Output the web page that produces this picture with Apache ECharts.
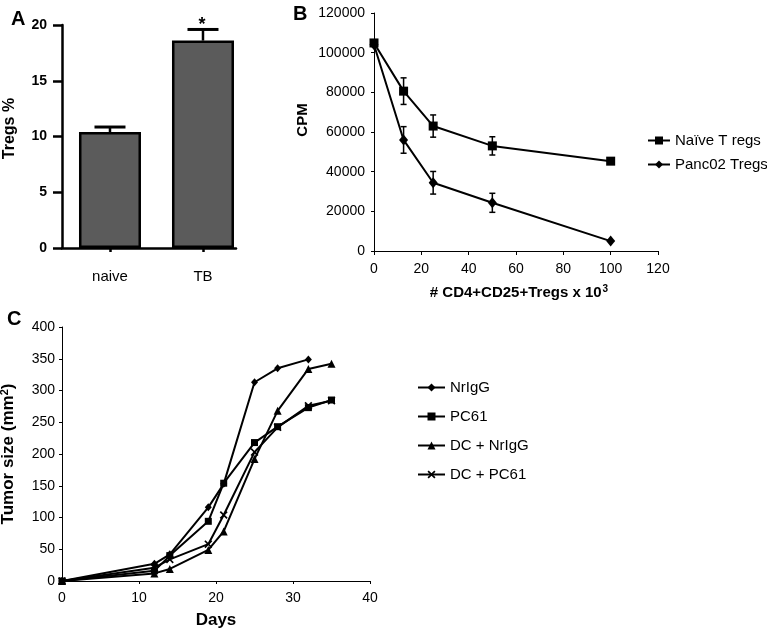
<!DOCTYPE html>
<html>
<head>
<meta charset="utf-8">
<script src="https://cdn.jsdelivr.net/npm/echarts@6/dist/echarts.min.js"></script>
<style>html,body{margin:0;padding:0;background:#fff}#c{width:767px;height:630px}</style>
</head>
<body>
<div id="c"></div>
<script>
// ---- Panel A data ----
const aCategories = ['naive', 'TB'];
const aValues = [10.4, 18.6];
const aErrors = [0.45, 1.0];
const aSig = ['', '*'];

// ---- Panel B data ----
const bX = [0, 12.5, 25, 50, 100];
const bNaive = [104900, 80600, 63000, 53000, 45300];
const bNaiveErr = [0, 6700, 5600, 4600, 1000];
const bPanc = [104000, 56000, 34400, 24300, 5000];
const bPancErr = [0, 6700, 5700, 4800, 0];
const bNames = ['Naïve T regs', 'Panc02 Tregs'];

// ---- Panel C data ----
const cDays = [0, 12, 14, 19, 21, 25, 28, 32, 35];
const cNrIgG = [0, 27, 42, 116, 153, 313, 335, 349, null];
const cPC61 = [0, 16, 40, 94, 154, 218, 243, 273, 285];
const cDCNrIgG = [0, 12, 19, 49, 78, 192, 268, 334, 342];
const cDCPC61 = [0, 21, 34, 58, 104, 203, 242, 276, 284];
const cNames = ['NrIgG', 'PC61', 'DC + NrIgG', 'DC + PC61'];

const FONT = '"Liberation Sans", Arial, Helvetica, sans-serif';
const chart = echarts.init(document.getElementById('c'), null, {renderer: 'canvas'});

const xMark = 'path://M0,1.5L1.5,0L5,3.5L8.5,0L10,1.5L6.5,5L10,8.5L8.5,10L5,6.5L1.5,10L0,8.5L3.5,5Z';

function errBarA(params, api) {
  const x = api.value(0), v = api.value(1), e = api.value(2);
  const p0 = api.coord([x, v]);
  const p1 = api.coord([x, v + e]);
  const sig = aSig[params.dataIndex];
  const ch = [
    {type: 'line', shape: {x1: p0[0], y1: p0[1], x2: p1[0], y2: p1[1]}, style: {stroke: '#000', lineWidth: 2.5}},
    {type: 'line', shape: {x1: p1[0] - 15.5, y1: p1[1], x2: p1[0] + 15.5, y2: p1[1]}, style: {stroke: '#000', lineWidth: 3}}
  ];
  if (sig) {
    ch.push({type: 'text', x: p1[0] - 1, y: p1[1] - 4, style: {text: sig, textAlign: 'center', textVerticalAlign: 'middle', font: 'bold 18px ' + FONT, fill: '#000'}});
  }
  return {type: 'group', children: ch};
}
function errBarB(params, api) {
  const x = api.value(0), v = api.value(1), e = api.value(2);
  if (!e) return null;
  const lo = api.coord([x, v - e]);
  const hi = api.coord([x, v + e]);
  const w = 3;
  return {type: 'group', children: [
    {type: 'line', shape: {x1: lo[0], y1: lo[1], x2: hi[0], y2: hi[1]}, style: {stroke: '#000', lineWidth: 1.5}},
    {type: 'line', shape: {x1: lo[0] - w, y1: lo[1], x2: lo[0] + w, y2: lo[1]}, style: {stroke: '#000', lineWidth: 1.5}},
    {type: 'line', shape: {x1: hi[0] - w, y1: hi[1], x2: hi[0] + w, y2: hi[1]}, style: {stroke: '#000', lineWidth: 1.5}}
  ]};
}

const thinAxis = {lineStyle: {color: '#000', width: 1}};
const pair = (xs, ys) => xs.map((x, i) => [x, ys[i]]);
const triple = (xs, ys, es) => xs.map((x, i) => [x, ys[i], es[i]]);

const option = {
  animation: false,
  backgroundColor: '#fff',
  textStyle: {fontFamily: FONT, color: '#000'},
  grid: [
    {left: 62, top: 25, width: 174, height: 223, containLabel: false, outerBoundsMode: 'none'},
    {left: 374, top: 13, width: 284, height: 238, containLabel: false, outerBoundsMode: 'none'},
    {left: 62, top: 327, width: 308, height: 254, containLabel: false, outerBoundsMode: 'none'}
  ],
  xAxis: [
    {gridIndex: 0, type: 'value', min: 0.484, max: 2.355, splitLine: {show: false},
     axisLine: {show: true, lineStyle: {color: '#000', width: 2.5}},
     axisTick: {show: true, length: 4, lineStyle: {color: '#000', width: 2.5}, customValues: [1, 2]},
     axisLabel: {customValues: [1, 2], margin: 21, fontSize: 15, color: '#000', fontFamily: FONT,
       formatter: v => aCategories[Math.round(v) - 1] || ''}},
    {gridIndex: 1, type: 'value', min: 0, max: 120, interval: 20, splitLine: {show: false},
     axisLine: {show: true, ...thinAxis}, axisTick: {show: true, length: 4, ...thinAxis},
     axisLabel: {margin: 11, fontSize: 14, color: '#000', fontFamily: FONT},
     name: '# CD4+CD25+Tregs x 10{sup|3}', nameLocation: 'middle', nameGap: 33,
     nameTextStyle: {fontSize: 15, fontWeight: 'bold', color: '#000', fontFamily: FONT, padding: [0, 0, 0, 6],
       rich: {sup: {fontSize: 10, fontWeight: 'bold', verticalAlign: 'top', padding: [0, 0, 8, 1], color: '#000', fontFamily: FONT}}}},
    {gridIndex: 2, type: 'value', min: 0, max: 40, interval: 10, splitLine: {show: false},
     axisLine: {show: true, ...thinAxis}, axisTick: {show: true, length: 3, ...thinAxis},
     axisLabel: {margin: 10, fontSize: 14, color: '#000', fontFamily: FONT},
     name: 'Days', nameLocation: 'middle', nameGap: 31,
     nameTextStyle: {fontSize: 17, fontWeight: 'bold', color: '#000', fontFamily: FONT}}
  ],
  yAxis: [
    {gridIndex: 0, type: 'value', min: 0, max: 20, interval: 5, splitLine: {show: false},
     axisLine: {show: true, lineStyle: {color: '#000', width: 2.5}},
     axisTick: {show: true, length: 9, lineStyle: {color: '#000', width: 2.5}},
     axisLabel: {margin: 15, fontSize: 14, fontWeight: 'bold', color: '#000', fontFamily: FONT},
     name: 'Tregs %', nameLocation: 'middle', nameGap: 44,
     nameTextStyle: {fontSize: 16, fontWeight: 'bold', color: '#000', fontFamily: FONT, padding: [0, 0, 0, 16]}},
    {gridIndex: 1, type: 'value', min: 0, max: 120000, interval: 20000, splitLine: {show: false},
     axisLine: {show: true, ...thinAxis}, axisTick: {show: true, length: 3, ...thinAxis},
     axisLabel: {margin: 9, fontSize: 14, color: '#000', fontFamily: FONT, formatter: v => String(v)},
     name: 'CPM', nameLocation: 'middle', nameGap: 64,
     nameTextStyle: {fontSize: 15, fontWeight: 'bold', color: '#000', fontFamily: FONT, padding: [0, 0, 0, 24]}},
    {gridIndex: 2, type: 'value', min: 0, max: 400, interval: 50, splitLine: {show: false},
     axisLine: {show: true, ...thinAxis}, axisTick: {show: true, length: 3, ...thinAxis},
     axisLabel: {margin: 7, fontSize: 14, color: '#000', fontFamily: FONT},
     name: 'Tumor size (mm{sup|2})', nameLocation: 'middle', nameGap: 44,
     nameTextStyle: {fontSize: 17, fontWeight: 'bold', color: '#000', fontFamily: FONT,
       rich: {sup: {fontSize: 11, fontWeight: 'bold', verticalAlign: 'top', padding: [0, 0, 8, 0], color: '#000', fontFamily: FONT}}}}
  ],
  legend: [
    {data: bNames, orient: 'vertical', left: 647, top: 133, padding: 0, itemWidth: 22, itemHeight: 10, itemGap: 9,
     textStyle: {fontSize: 15, color: '#000', fontFamily: FONT}, selectedMode: false},
    {data: cNames, orient: 'vertical', left: 417, top: 380, padding: 0, itemWidth: 27, itemHeight: 10, itemGap: 14,
     textStyle: {fontSize: 15, color: '#000', fontFamily: FONT}, selectedMode: false}
  ],
  series: [
    {type: 'bar', xAxisIndex: 0, yAxisIndex: 0, barWidth: 62, data: pair([1, 2], aValues),
     itemStyle: {color: '#5b5b5b', borderColor: '#000', borderWidth: 2.5}, z: 2},
    {type: 'custom', xAxisIndex: 0, yAxisIndex: 0, renderItem: errBarA, data: triple([1, 2], aValues, aErrors), z: 3},

    {type: 'custom', xAxisIndex: 1, yAxisIndex: 1, renderItem: errBarB, data: triple(bX, bNaive, bNaiveErr), z: 2},
    {type: 'custom', xAxisIndex: 1, yAxisIndex: 1, renderItem: errBarB, data: triple(bX, bPanc, bPancErr), z: 2},
    {name: bNames[0], type: 'line', xAxisIndex: 1, yAxisIndex: 1, data: pair(bX, bNaive), symbol: 'rect', symbolSize: 9,
     lineStyle: {color: '#000', width: 2}, itemStyle: {color: '#000'}, z: 3},
    {name: bNames[1], type: 'line', xAxisIndex: 1, yAxisIndex: 1, data: pair(bX, bPanc), symbol: 'diamond', symbolSize: [9, 11],
     lineStyle: {color: '#000', width: 2}, itemStyle: {color: '#000'}, z: 3},

    {name: cNames[0], type: 'line', xAxisIndex: 2, yAxisIndex: 2, data: pair(cDays, cNrIgG), symbol: 'diamond', symbolSize: [7, 8],
     lineStyle: {color: '#000', width: 2}, itemStyle: {color: '#000'}},
    {name: cNames[1], type: 'line', xAxisIndex: 2, yAxisIndex: 2, data: pair(cDays, cPC61), symbol: 'rect', symbolSize: 7,
     lineStyle: {color: '#000', width: 2}, itemStyle: {color: '#000'}},
    {name: cNames[2], type: 'line', xAxisIndex: 2, yAxisIndex: 2, data: pair(cDays, cDCNrIgG), symbol: 'triangle', symbolSize: 8,
     lineStyle: {color: '#000', width: 2}, itemStyle: {color: '#000'}},
    {name: cNames[3], type: 'line', xAxisIndex: 2, yAxisIndex: 2, data: pair(cDays, cDCPC61), symbol: xMark, symbolSize: 8,
     lineStyle: {color: '#000', width: 2}, itemStyle: {color: '#000'}}
  ],
  graphic: [
    {type: 'text', left: 11, top: 9, style: {text: 'A', font: 'bold 20px ' + FONT, fill: '#000'}},
    {type: 'text', left: 293, top: 4, style: {text: 'B', font: 'bold 20px ' + FONT, fill: '#000'}},
    {type: 'text', left: 7, top: 309, style: {text: 'C', font: 'bold 20px ' + FONT, fill: '#000'}}
  ]
};
chart.setOption(option);
</script>
</body>
</html>
